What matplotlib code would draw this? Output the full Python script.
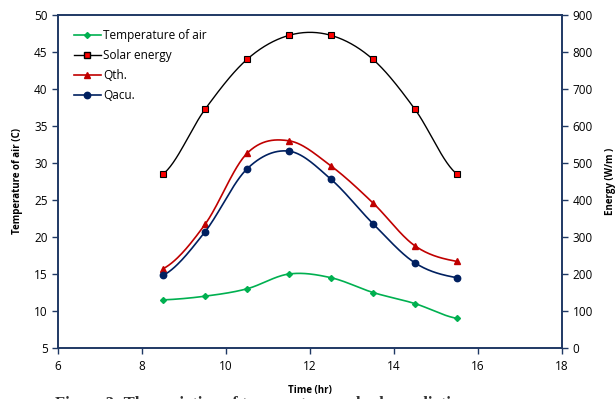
import numpy as np
import matplotlib.pyplot as plt

# data
hours = [8.5, 9.5, 10.5, 11.5, 12.5, 13.5, 14.5, 15.5]
temp_air = [11.5, 12.0, 13.0, 15.0, 14.5, 12.5, 11.0, 9.0]
solar = [470, 645, 780, 845, 845, 780, 645, 470]
q_th = [214, 334, 526, 560, 492, 392, 276, 234]
q_acu = [196, 314, 484, 532, 456, 336, 230, 190]


def smooth(x, y, n=30):
    # Catmull-Rom style curve through the points (like Excel "smoothed line")
    x = np.asarray(x, float)
    y = np.asarray(y, float)
    px = np.concatenate([[2 * x[0] - x[1]], x, [2 * x[-1] - x[-2]]])
    py = np.concatenate([[y[0]], y, [y[-1]]])
    xs, ys = [], []
    t = np.linspace(0, 1, n)
    for i in range(1, len(px) - 2):
        p0, p1, p2, p3 = [np.array([px[j], py[j]]) for j in (i - 1, i, i + 1, i + 2)]
        c1 = p1 + (p2 - p0) / 6
        c2 = p2 - (p3 - p1) / 6
        b = ((1 - t) ** 3)[:, None] * p1 + (3 * (1 - t) ** 2 * t)[:, None] * c1 \
            + (3 * (1 - t) * t ** 2)[:, None] * c2 + (t ** 3)[:, None] * p2
        xs.append(b[:, 0])
        ys.append(b[:, 1])
    return np.concatenate(xs), np.concatenate(ys)


plt.rcParams['font.family'] = ['Open Sans', 'DejaVu Sans']
navy = '#1f3864'
green = '#00b050'
red = '#c00000'
blue = '#002060'

fig = plt.figure(figsize=(6.15, 3.99), dpi=100)
ax = fig.add_axes([58 / 615, 1 - 348 / 399, 504 / 615, 333 / 399])
ax2 = ax.twinx()

sx, sy = smooth(hours, temp_air)
ax.plot(sx, sy, color=green, lw=1.2)
ax.plot(hours, temp_air, 'D', color=green, ms=3, ls='none')

sx, sy = smooth(hours, solar)
ax2.plot(sx, sy, color='black', lw=1)
ax2.plot(hours, solar, 's', mfc='red', mec='black', mew=0.8, ms=4.6, ls='none')
sx, sy = smooth(hours, q_th)
ax2.plot(sx, sy, color=red, lw=1.2)
ax2.plot(hours, q_th, '^', color=red, ms=5, ls='none')
sx, sy = smooth(hours, q_acu)
ax2.plot(sx, sy, color=blue, lw=1.2)
ax2.plot(hours, q_acu, 'o', color=blue, ms=4.6, ls='none')

ax.set_xlim(6, 18)
ax.set_ylim(5, 50)
ax2.set_ylim(0, 900)
ax.set_xticks(range(6, 19, 2))
ax.set_yticks(range(5, 51, 5))
ax2.set_yticks(range(0, 901, 100))

for a in (ax, ax2):
    for s in a.spines.values():
        s.set_color(navy)
        s.set_linewidth(1.2)
    a.tick_params(direction='out', length=4, color=navy, labelsize=8.5, width=1)
ax.tick_params(axis='x', pad=5)

ax.set_xlabel('Time (hr)', fontsize=7, fontweight='bold', labelpad=8)
ax.set_ylabel('Temperature of air (C)', fontsize=7, fontweight='bold', labelpad=8)
ax2.set_ylabel('Energy (W/m )', fontsize=7, fontweight='bold', labelpad=9)

handles = [
    plt.Line2D([], [], color=green, marker='D', ms=3, lw=1.2),
    plt.Line2D([], [], color='black', marker='s', mfc='red', mec='black', ms=4.6, lw=1),
    plt.Line2D([], [], color=red, marker='^', ms=5, lw=1.2),
    plt.Line2D([], [], color=blue, marker='o', ms=4.6, lw=1.2),
]
labels = ['Temperature of air', 'Solar energy', 'Qth.', 'Qacu.']
ax.legend(handles, labels, loc='upper left', bbox_to_anchor=(0.01, 0.99), frameon=False,
          fontsize=8.5, handlelength=2.3, handletextpad=0.2, labelspacing=0.6)

# figure caption, mostly cut off by the bottom edge as in the reference
fig.text(55 / 615, 1 - 396 / 399, 'Figure 3: The variation of temperature and solar radiation',
         fontsize=12, fontweight='bold', family='Liberation Serif', color='#333333',
         ha='left', va='top')

fig.savefig('out.png', dpi=100)
